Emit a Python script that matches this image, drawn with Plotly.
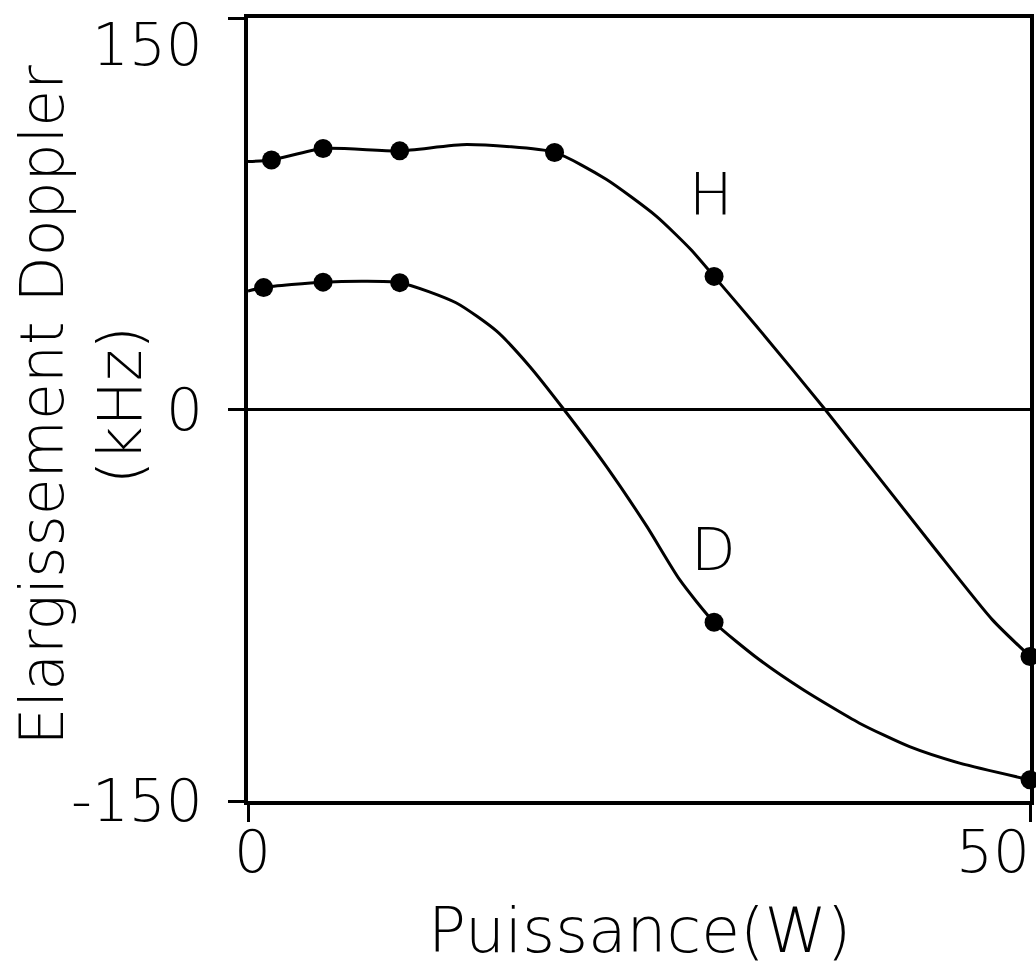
import plotly.graph_objects as go

power_H = [1.5, 4.8, 9.7, 19.6, 29.8, 50]
width_H = [95.6, 100.0, 99.1, 98.5, 51.0, -94.6]
power_D = [1.0, 4.8, 9.7, 29.8, 50]
width_D = [46.7, 48.8, 48.6, -81.5, -141.9]

# courbes tracées à la main
curve_H_x = [0, 1.5, 4.8, 9.7, 14.0, 19.6, 22.9, 26.1, 28.3, 29.8, 32.5, 36.9, 43.8, 47.6, 50]
curve_H_y = [95.0, 95.6, 100.0, 99.1, 101.5, 98.5, 88.2, 74.1, 61.4, 51.0, 32.0, 0, -52.4, -80.6, -94.6]
curve_D_x = [0, 1.0, 4.8, 9.7, 13.3, 15.9, 18.0, 20.2, 22.9, 25.5, 27.6, 29.8, 32.7, 35.5, 39.1, 42.3, 45.5, 50]
curve_D_y = [45.4, 46.7, 48.8, 48.6, 40.9, 30.0, 16.6, 0, -21.7, -44.8, -65.2, -81.5, -95.9, -107.4, -120.2, -129.2, -135.5, -141.9]

x_ticks = [0, 50]
y_ticks = [-150, 0, 150]

FONT = "DejaVu Sans"

fig = go.Figure()

for cx, cy in [(curve_H_x, curve_H_y), (curve_D_x, curve_D_y)]:
    fig.add_trace(go.Scatter(
        x=cx, y=cy, mode='lines',
        line=dict(color='black', width=3, shape='spline', smoothing=0.6),
        hoverinfo='skip', cliponaxis=False
    ))

for px, py, name in [(power_H, width_H, 'H'), (power_D, width_D, 'D')]:
    fig.add_trace(go.Scatter(
        x=px, y=py, mode='markers', name=name,
        marker=dict(color='black', size=19),
        cliponaxis=False
    ))

lab_font = dict(family=FONT, size=58, color='black', weight=200)

annotations = []
# étiquettes des graduations
for v in x_ticks:
    annotations.append(dict(
        x=v, y=0, xref='x', yref='paper', text=str(v), showarrow=False,
        xanchor='right' if v == 50 else 'center', yanchor='middle',
        xshift=2 if v == 50 else 4, yshift=-51, font=lab_font))
for v in y_ticks:
    annotations.append(dict(
        x=0, y=v, xref='paper', yref='y', text=str(v), showarrow=False,
        xanchor='right', yanchor='middle', xshift=-43,
        yshift=-27 if v == 150 else 0, font=lab_font))

# noms des courbes
annotations.append(dict(x=29.6, y=82, text='H', showarrow=False, font=lab_font))
annotations.append(dict(x=29.75, y=-54, text='D', showarrow=False, font=lab_font))

# titres des axes
annotations.append(dict(x=0.5, y=-0.165, xref='paper', yref='paper',
                        text='Puissance(W)', showarrow=False,
                        xanchor='center', yanchor='middle',
                        font=dict(family=FONT, size=63, color='black', weight=200)))
annotations.append(dict(x=-0.214, y=0.506, xref='paper', yref='paper',
                        text='Elargissement Doppler<br>(kHz)', showarrow=False,
                        textangle=-90, xanchor='center', yanchor='middle',
                        font=dict(family=FONT, size=60, color='black', weight=200)))

fig.update_layout(
    width=1036, height=970,
    margin=dict(l=248, r=6, t=18, b=169, autoexpand=False),
    paper_bgcolor='white', plot_bgcolor='white',
    showlegend=False,
    annotations=annotations,
    xaxis=dict(
        range=[0, 50], tickvals=x_ticks, showticklabels=False,
        ticks='outside', ticklen=17, tickwidth=3, tickcolor='black',
        showline=True, linecolor='black', linewidth=4, mirror=True,
        showgrid=False, zeroline=False
    ),
    yaxis=dict(
        range=[-150, 150], tickvals=y_ticks, showticklabels=False,
        ticks='outside', ticklen=16, tickwidth=3, tickcolor='black',
        showline=True, linecolor='black', linewidth=4, mirror=True,
        showgrid=False, zeroline=True, zerolinecolor='black', zerolinewidth=2.5
    ),
)

# pas de marge autour de la figure dans la page
fig.write_html("out.html", config={'displayModeBar': False},
               post_script="document.body.style.margin='0';")
